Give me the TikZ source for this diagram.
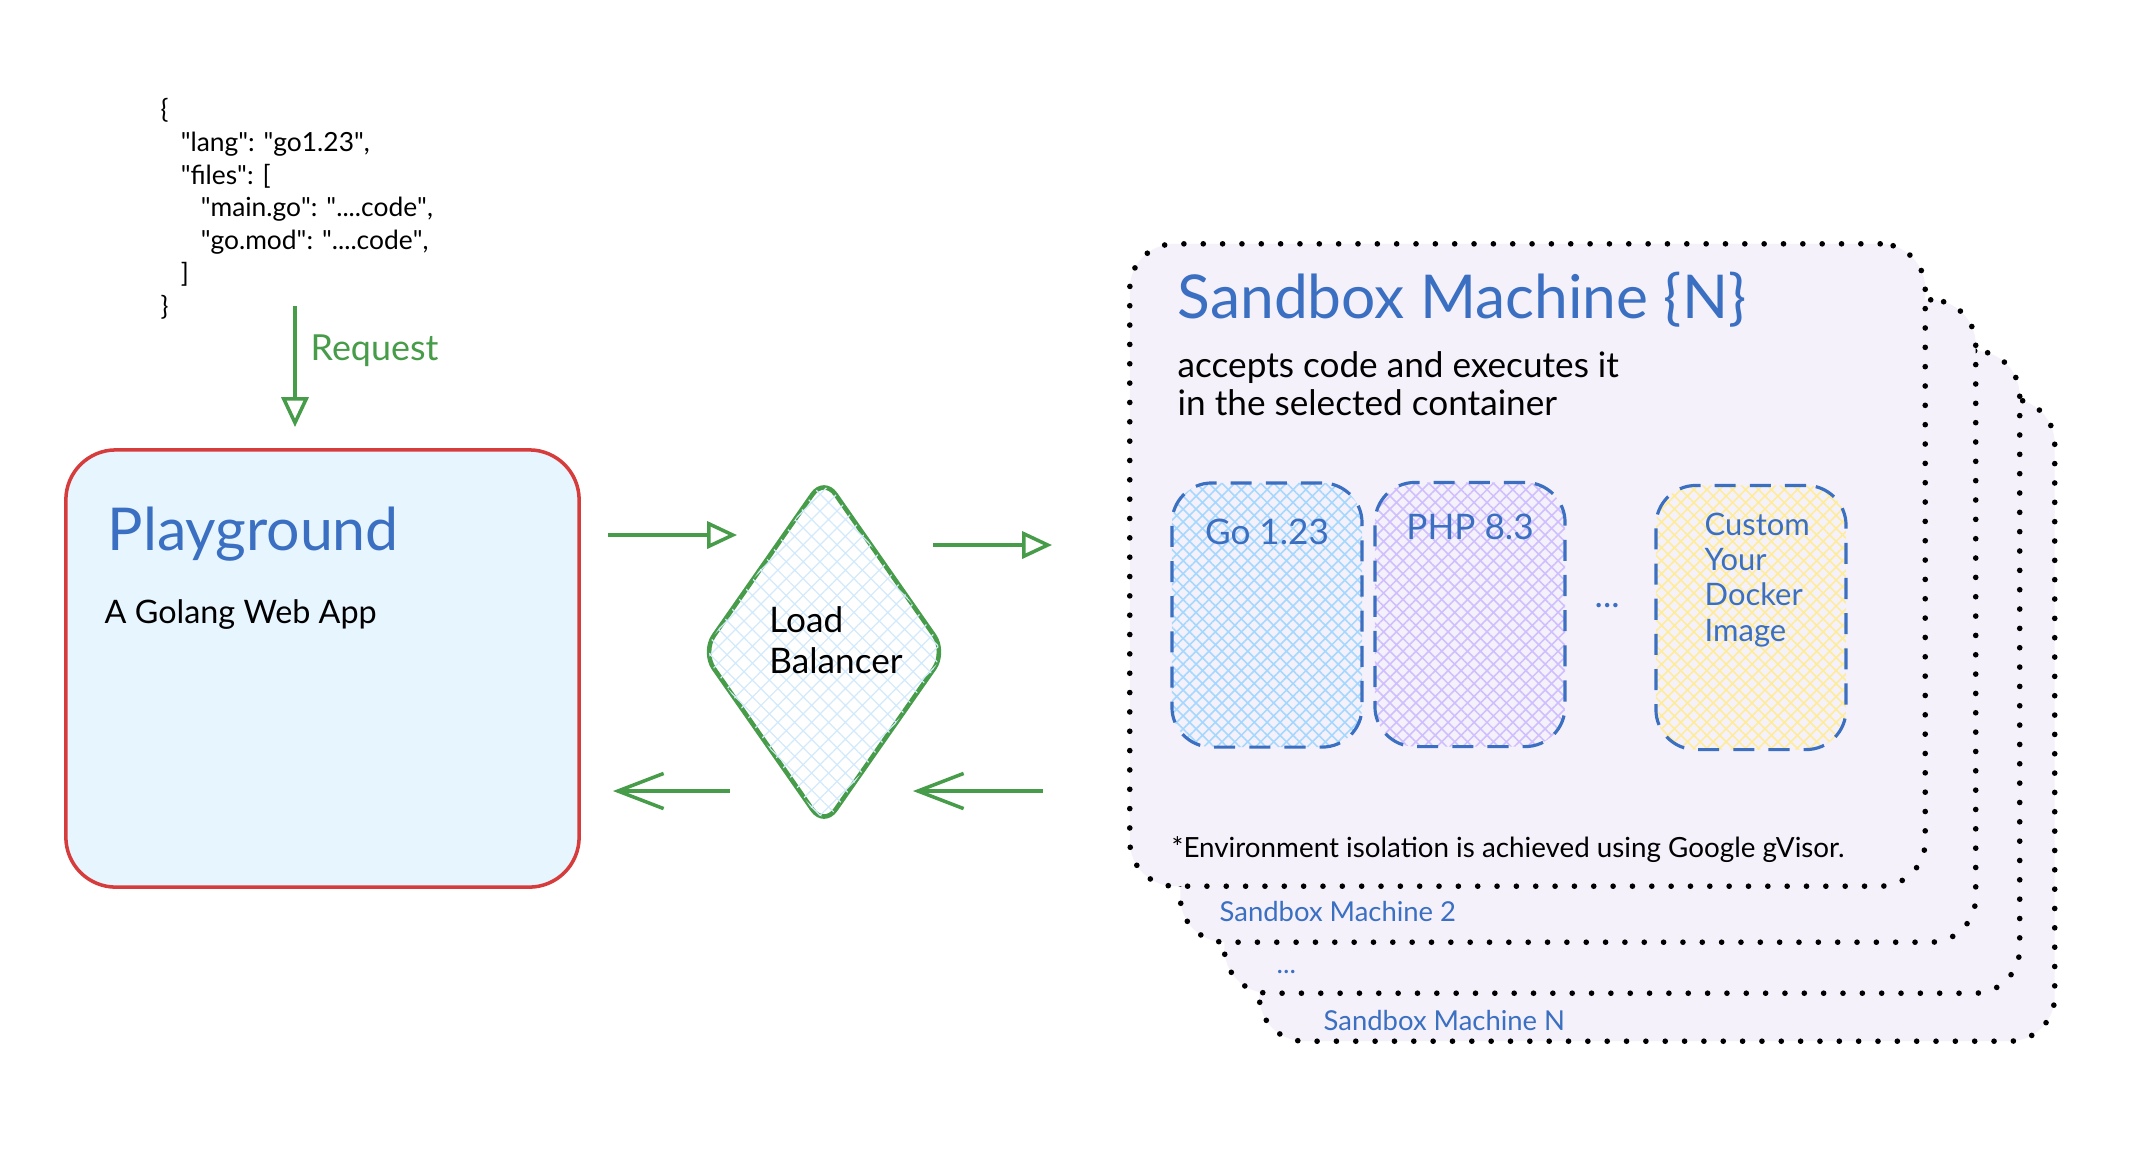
\documentclass[tikz,border=0pt]{standalone}
\usepackage{fontspec}
\setmainfont{Lato}
\usetikzlibrary{arrows.meta,shapes.geometric,patterns.meta}

\definecolor{inkblue}{HTML}{3A6FC1}
\definecolor{inkgreen}{HTML}{469C48}
\definecolor{inkred}{HTML}{D63C3C}
\definecolor{paleblue}{HTML}{E7F5FF}
\definecolor{lavender}{HTML}{F5F1FB}
\definecolor{hatchblue}{HTML}{A5D8FF}
\definecolor{hatchviolet}{HTML}{D0BFFF}
\definecolor{hatchyellow}{HTML}{FFEC99}
\definecolor{hatchpale}{HTML}{D3EAFC}

\newcommand\dq{\textquotedbl}

\tikzset{
  txt/.style={inner sep=0pt, anchor=base west, align=left},
  appbox/.style={draw=inkred, line width=1pt, fill=paleblue, rounded corners=0.5cm,
    minimum width=5.13cm, minimum height=4.37cm},
  machine/.style={draw=black, line width=1.6pt, dash pattern=on 0pt off 5.5pt, line cap=round,
    fill=lavender, rounded corners=0.45cm, minimum width=7.95cm, minimum height=6.42cm},
  runtime/.style={draw=inkblue, line width=0.9pt, dash pattern=on 6pt off 4pt,
    rounded corners=0.4cm, minimum width=1.9cm, minimum height=2.64cm},
  hatched/.style={pattern={Hatch[angle=45,distance=2.6pt,line width=0.45pt]}, pattern color=#1},
  fwdarrow/.style={inkgreen, line width=1pt, -{Triangle[open, length=8.5pt, width=7.7pt]}},
  retarrow/.style={inkgreen, line width=1pt, -{Straight Barb[length=13pt, width=10pt]}},
}

\begin{document}
\begin{tikzpicture}[x=0.01cm, y=-0.01cm]
  \fill[white, use as bounding box] (0,0) rectangle (2132,1162);

  \node[txt, font=\fontsize{7.5pt}{9.3pt}\selectfont] (json) at (160,315)
    {\{\\
     \hspace*{5.7pt}\dq lang\dq: \dq go1.23\dq,\\
     \hspace*{5.7pt}\dq files\dq: [\\
     \hspace*{11.4pt}\dq main.go\dq: \dq....code\dq,\\
     \hspace*{11.4pt}\dq go.mod\dq: \dq....code\dq,\\
     \hspace*{5.7pt}]\\
     \}};

  \node[appbox] (pg) at (322.5,668.5) {};
  \node[txt, inkblue, font=\fontsize{16.8pt}{20pt}\selectfont] (pgtitle) at (107,550) {Playground};
  \node[txt, font=\fontsize{9.2pt}{11pt}\selectfont] (pgsub) at (104,623) {A Golang Web App};

  \coordinate (reqtop) at (295,306);
  \coordinate (reqtip) at (295,427);
  \draw[fwdarrow] (reqtop) -- (reqtip);
  \node[txt, inkgreen, font=\fontsize{10.2pt}{12pt}\selectfont] (reqlabel) at (310,360) {Request};

  \node[diamond, draw=inkgreen, line width=1.3pt, rounded corners=0.2cm,
    minimum width=2.45cm, minimum height=3.5cm, fill=white,
    postaction={pattern={Hatch[angle=45,distance=3.4pt,line width=0.35pt]}, pattern color=hatchpale}]
    (lb) at (824,652) {};
  \node[txt, anchor=center, font=\fontsize{10pt}{11.6pt}\selectfont] (lbtag)
    at ([shift={(12,-12)}]lb.center) {Load\\Balancer};

  \node[machine] (m4) at (1657,720) {};
  \node[machine] (m3) at (1622,672) {};
  \node[machine] (m2) at (1578,621) {};
  \node[machine] (m1) at (1527.5,565) {};

  \node[txt, inkblue, font=\fontsize{7.8pt}{10pt}\selectfont] (m2name) at (1219,921) {Sandbox Machine 2};
  \node[txt, inkblue, font=\fontsize{7.8pt}{10pt}\selectfont] (m3name) at (1276,973) {...};
  \node[txt, inkblue, font=\fontsize{7.8pt}{10pt}\selectfont] (m4name) at (1323,1030) {Sandbox Machine N};

  \node[txt, inkblue, font=\fontsize{17.2pt}{20pt}\selectfont] (m1title) at (1177,318) {Sandbox Machine \{N\}};
  \node[txt, font=\fontsize{10pt}{10.8pt}\selectfont] (m1sub) at (1177,415)
    {accepts code and executes it\\in the selected container};

  \node[runtime, hatched=hatchblue] (go) at (1267,615) {};
  \node[runtime, hatched=hatchviolet] (php) at (1470,614.5) {};
  \node[runtime, hatched=hatchyellow] (custom) at (1751,617.5) {};

  \node[txt, anchor=base, inkblue, font=\fontsize{10pt}{12pt}\selectfont] at ([shift={(0,62)}]go.north) {Go 1.23};
  \node[txt, anchor=base, inkblue, font=\fontsize{10pt}{12pt}\selectfont] at ([shift={(0,59)}]php.north) {PHP 8.3};
  \node[txt, inkblue, font=\fontsize{10pt}{12pt}\selectfont] (more) at (1594,607) {...};
  \node[txt, inkblue, font=\fontsize{8.8pt}{10pt}\selectfont] (customtag) at (1704,641)
    {Custom\\Your\\Docker\\Image};

  \node[txt, font=\fontsize{7.9pt}{9pt}\selectfont] (note) at (1171,857)
    {*Environment isolation is achieved using Google gVisor.};

  \coordinate (pgout) at (608,535);
  \coordinate (lbin) at (737,535);
  \coordinate (lbout) at (933,545);
  \coordinate (sbin) at (1052,545);
  \coordinate (sbout) at (1043,791);
  \coordinate (lbback) at (913,791);
  \coordinate (lbret) at (730,791);
  \coordinate (pgin) at (613,791);
  \begin{scope}
    \draw[fwdarrow] (pgout) -- (lbin);
    \draw[fwdarrow] (lbout) -- (sbin);
    \draw[retarrow] (sbout) -- (lbback);
    \draw[retarrow] (lbret) -- (pgin);
  \end{scope}
\end{tikzpicture}
\end{document}
